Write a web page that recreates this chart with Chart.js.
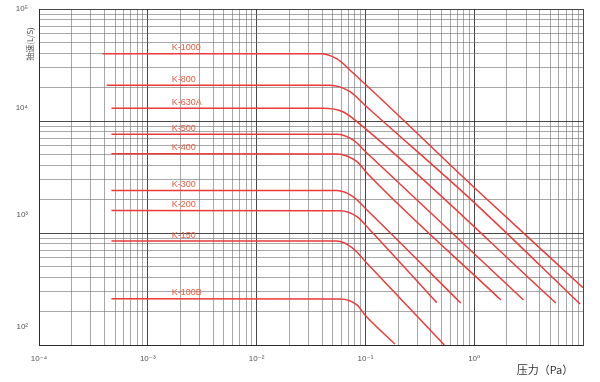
<!DOCTYPE html>
<html><head><meta charset="utf-8">
<script src="https://cdn.jsdelivr.net/npm/chart.js@4/dist/chart.umd.min.js"></script>
<style>html,body{margin:0;padding:0;background:#fff}#wrap{width:600px;height:382px;position:relative}</style>
</head><body><div id="wrap"><canvas id="c"></canvas></div>
<script>
// ---- data ----
const seriesNames = ['K-1000','K-800','K-630A','K-500','K-400','K-300','K-200','K-150','K-100B'];
const pK1000 = [3.83e-4, 0.0382, 0.0548, 0.0753, 0.983, 10];
const sK1000 = [39800, 39800, 35800, 27400, 2590, 325];
const pK800  = [4.2e-4, 0.0472, 0.0722, 0.1028, 1.019, 9.42];
const sK800  = [20900, 20900, 18300, 13400, 1840, 232];
const pK630A = [4.63e-4, 0.0407, 0.0622, 0.095, 5.63];
const sK630A = [13000, 13000, 12100, 8900, 237];
const pK500  = [4.63e-4, 0.0548, 0.0769, 0.1034, 2.84];
const sK500  = [7600, 7600, 6770, 5180, 252];
const pK400  = [4.63e-4, 0.0548, 0.0837, 0.1034, 1.76];
const sK400  = [5100, 5080, 4330, 3430, 252];
const pK300  = [4.63e-4, 0.0548, 0.0769, 0.1034, 0.753];
const sK300  = [2400, 2390, 2110, 1605, 237];
const pK200  = [4.63e-4, 0.0584, 0.0837, 0.1102, 0.453];
const sK200  = [1590, 1580, 1400, 1064, 239];
const pK150  = [4.63e-4, 0.0548, 0.0769, 0.1034, 0.532];
const sK150  = [848, 848, 730, 536, 100];
const pK100B = [4.63e-4, 0.0584, 0.0837, 0.0992, 0.187];
const sK100B = [259, 257, 228, 185, 102];
const xTickValues = [1e-4, 1e-3, 1e-2, 1e-1, 1];
const xTickLabels = ['10⁻⁴','10⁻³','10⁻²','10⁻¹','10⁰'];
const yTickValues = [1e2, 1e3, 1e4, 1e5];
const yTickLabels = ['10²','10³','10⁴','10⁵'];
const xTitle = '压力（Pa）';
const yTitle = '抽速(L/S)';
const labelPressure = 1.66e-3;

const pressures = [pK1000,pK800,pK630A,pK500,pK400,pK300,pK200,pK150,pK100B];
const speeds = [sK1000,sK800,sK630A,sK500,sK400,sK300,sK200,sK150,sK100B];

const lineColor = '#ec3a3a';
const labelColor = '#ef5a3f';
const tickColor = '#555';
const TXT = '"Liberation Sans","DejaVu Sans",sans-serif';
const CJK = '"Noto Sans CJK SC",sans-serif';

function logTicks(min, max) {
  const out = [];
  for (let e = Math.round(Math.log10(min)); e <= Math.round(Math.log10(max)); e++) {
    for (let m = 1; m <= 9; m++) {
      const v = m * Math.pow(10, e);
      if (v >= min * 0.999 && v <= max * 1.001) out.push({value: v});
    }
  }
  return out;
}
function isMajor(v) { const l = Math.log10(v); return Math.abs(l - Math.round(l)) < 1e-6; }
function gridColor(ctx) { return ctx.tick && isMajor(ctx.tick.value) ? 'rgba(40,40,40,0.85)' : 'rgba(110,110,110,0.6)'; }

const datasets = seriesNames.map((n, i) => ({
  label: n,
  data: pressures[i].map((p, j) => ({x: p, y: speeds[i][j]})),
  borderColor: lineColor,
  borderWidth: 1.5,
  pointRadius: 0,
  fill: false,
  cubicInterpolationMode: 'monotone'
}));

const annot = {
  id: 'annot',
  afterDatasetsDraw(chart) {
    const {ctx, scales: {x, y}} = chart;
    ctx.save();
    ctx.fillStyle = labelColor;
    ctx.font = '9px ' + TXT;
    ctx.textBaseline = 'middle';
    ctx.textAlign = 'left';
    seriesNames.forEach((n, i) => {
      ctx.fillText(n, x.getPixelForValue(labelPressure), y.getPixelForValue(speeds[i][0]) - 6);
    });
    ctx.fillStyle = '#333';
    ctx.font = '11px ' + CJK;
    ctx.textAlign = 'center';
    ctx.fillText(xTitle, 545, 370);
    ctx.font = '8px ' + CJK;
    ctx.translate(30, 44);
    ctx.rotate(-Math.PI / 2);
    ctx.fillStyle = '#555';
    ctx.fillText(yTitle, 0, 0);
    ctx.restore();
  }
};

new Chart(document.getElementById('c'), {
  type: 'line',
  data: {datasets},
  plugins: [annot],
  options: {
    responsive: true,
    maintainAspectRatio: false,
    animation: false,
    layout: {padding: {top: 9, right: 17, left: 0, bottom: 0}},
    plugins: {legend: {display: false}, tooltip: {enabled: false}},
    scales: {
      x: {
        type: 'logarithmic', min: 1e-4, max: 10,
        afterBuildTicks: s => { s.ticks = logTicks(1e-4, 10); },
        afterFit: s => { s.height = 37; s.paddingLeft = 0; s.paddingRight = 0; },
        grid: {color: gridColor, lineWidth: 1, drawTicks: false},
        border: {color: 'rgba(40,40,40,0.9)', width: 1},
        ticks: {
          autoSkip: false, maxRotation: 0, padding: 9, color: tickColor,
          font: {size: 8, family: TXT},
          callback: v => { const k = xTickValues.findIndex(t => Math.abs(t - v) / t < 1e-6); return k >= 0 ? xTickLabels[k] : ''; }
        }
      },
      y: {
        type: 'logarithmic', min: 100, max: 1e5,
        afterBuildTicks: s => { s.ticks = logTicks(100, 1e5); },
        afterFit: s => { s.width = 39; s.paddingTop = 0; s.paddingBottom = 0; },
        grid: {color: gridColor, lineWidth: 1, drawTicks: false},
        border: {color: 'rgba(40,40,40,0.9)', width: 1},
        ticks: {
          autoSkip: false, padding: 11, color: tickColor,
          font: {size: 8, family: TXT, lineHeight: '9px'},
          callback: v => {
            const k = yTickValues.findIndex(t => Math.abs(t - v) / t < 1e-6);
            if (k < 0) return '';
            const pad = [4, 4, 3, 0][k];
            const out = [yTickLabels[k]];
            for (let i = 0; i < pad; i++) out.push('');
            return out;
          }
        }
      }
    }
  }
});
</script></body></html>
